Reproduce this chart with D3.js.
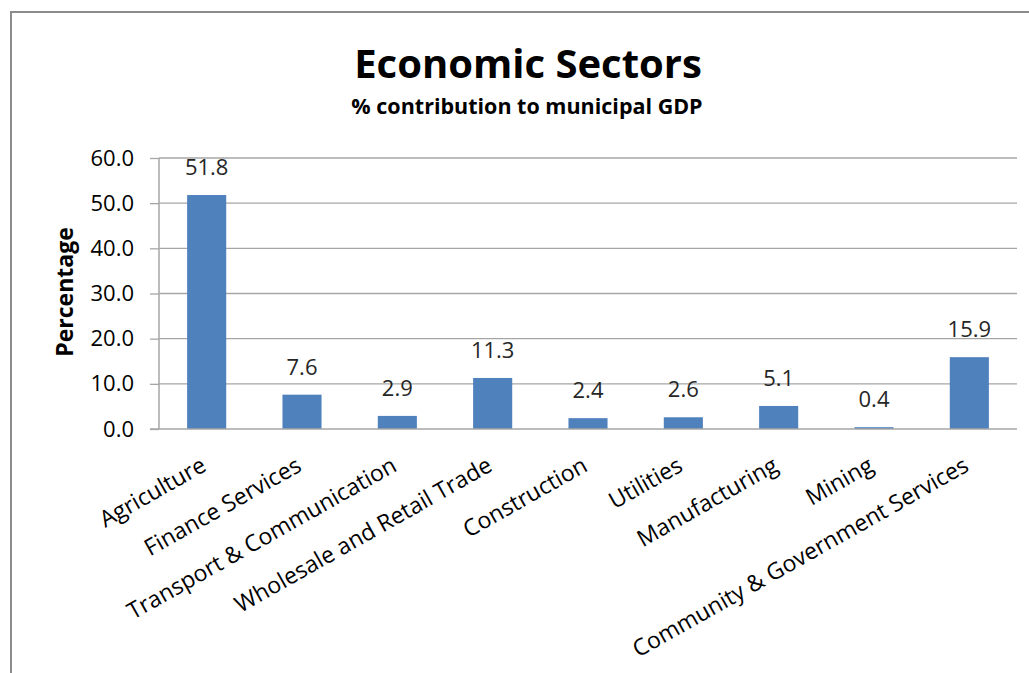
<!DOCTYPE html>
<html>
<head>
<meta charset="utf-8">
<script src="https://cdn.jsdelivr.net/npm/d3@7"></script>
<style>
  body { margin: 0; background: #fff; }
  text { font-family: "Open Sans", "DejaVu Sans", sans-serif; fill: #000; }
</style>
</head>
<body>
<svg id="chart" width="1029" height="673"></svg>
<script>
var sectors = ["Agriculture", "Finance Services", "Transport & Communication",
  "Wholesale and Retail Trade", "Construction", "Utilities", "Manufacturing",
  "Mining", "Community & Government Services"];
var shares = [51.8, 7.6, 2.9, 11.3, 2.4, 2.6, 5.1, 0.4, 15.9];
var yTicks = [0, 10, 20, 30, 40, 50, 60];

var svg = d3.select("#chart"),
  margin = {top: 158, right: 12, bottom: 244, left: 159},
  width = +svg.attr("width") - margin.left - margin.right,
  height = +svg.attr("height") - margin.top - margin.bottom;

// outer chart frame (right and bottom edges are cut off)
svg.append("rect")
  .attr("x", 11).attr("y", 12)
  .attr("width", 1040).attr("height", 700)
  .attr("fill", "none")
  .attr("stroke", "#8c8c8c")
  .attr("stroke-width", 2);

svg.append("text")
  .attr("x", 528).attr("y", 78)
  .attr("text-anchor", "middle")
  .style("font-size", "40px").style("font-weight", "bold")
  .text("Economic Sectors");

svg.append("text")
  .attr("x", 527).attr("y", 114)
  .attr("text-anchor", "middle")
  .style("font-size", "21.5px").style("font-weight", "bold")
  .text("% contribution to municipal GDP");

var g = svg.append("g").attr("transform", "translate(" + margin.left + "," + margin.top + ")");

var x = d3.scaleBand().domain(sectors).range([0, width]).padding(0);
var y = d3.scaleLinear().domain([0, 60]).range([height, 0]);
var barW = x.bandwidth() * 0.41;

// gridlines
g.selectAll(".grid")
  .data(yTicks.slice(1))
  .enter().append("line")
    .attr("class", "grid")
    .attr("x1", 0).attr("x2", width)
    .attr("y1", function(d) { return y(d); })
    .attr("y2", function(d) { return y(d); })
    .attr("stroke", "#a6a6a6")
    .attr("stroke-width", 1.3);

g.selectAll(".bar")
  .data(sectors)
  .enter().append("rect")
    .attr("class", "bar")
    .attr("x", function(d) { return x(d) + (x.bandwidth() - barW) / 2; })
    .attr("y", function(d, i) { return y(shares[i]); })
    .attr("width", barW)
    .attr("height", function(d, i) { return height - y(shares[i]); })
    .attr("fill", "#4f81bd");

g.selectAll(".val")
  .data(sectors)
  .enter().append("text")
    .attr("class", "val")
    .attr("x", function(d) { return x(d) + x.bandwidth() / 2; })
    .attr("y", function(d, i) { return y(shares[i]) - 20; })
    .attr("text-anchor", "middle")
    .style("font-size", "22px")
    .style("fill", "#262626")
    .text(function(d, i) { return shares[i].toFixed(1); });

// y axis
var yAxis = g.append("g")
  .call(d3.axisLeft(y).tickValues(yTicks).tickSize(9).tickPadding(16)
    .tickFormat(d3.format(".1f")));
yAxis.select(".domain").attr("stroke", "#a6a6a6").attr("stroke-width", 1.5)
  .attr("d", "M0," + height + "V0");
yAxis.selectAll(".tick line").attr("stroke", "#a6a6a6").attr("stroke-width", 1.3);
yAxis.selectAll(".tick text")
  .style("font-size", "22px")
  .style("font-family", "'Open Sans', sans-serif")
  .attr("fill", "#262626");

// x axis
var xAxis = g.append("g")
  .attr("transform", "translate(0," + height + ")")
  .call(d3.axisBottom(x).tickSize(0).tickPadding(0));
xAxis.select(".domain").attr("stroke", "#a6a6a6").attr("stroke-width", 1.5)
  .attr("d", "M-9,0H" + width);
xAxis.selectAll(".tick text")
  .style("font-size", "23px")
  .style("font-family", "'Open Sans', sans-serif")
  .attr("fill", "#000")
  .attr("text-anchor", "end")
  .attr("dy", 0)
  .attr("transform", "translate(1,41) rotate(-29.5)");

svg.append("text")
  .attr("transform", "translate(73," + 292 + ") rotate(-90)")
  .attr("text-anchor", "middle")
  .style("font-size", "23px").style("font-weight", "bold")
  .text("Percentage");
</script>
</body>
</html>
